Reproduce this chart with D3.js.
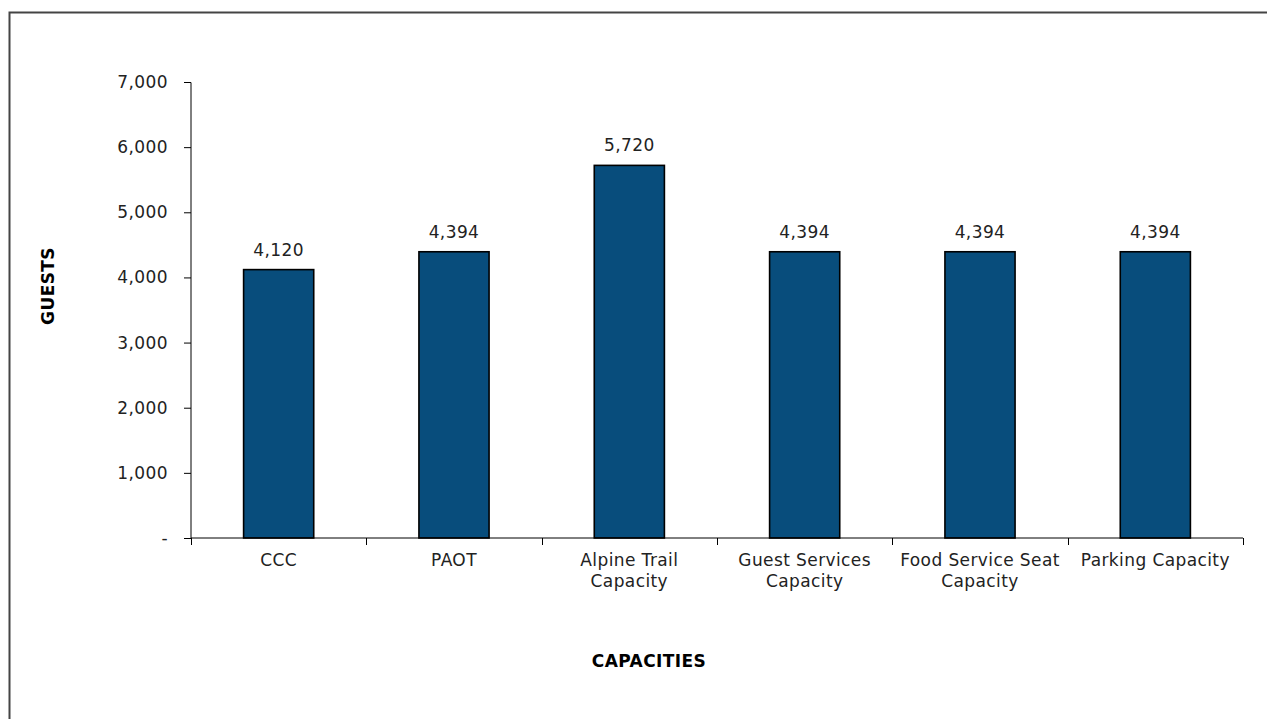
<!DOCTYPE html>
<html>
<head>
<meta charset="utf-8">
<script src="https://cdnjs.cloudflare.com/ajax/libs/d3/7.8.5/d3.min.js"></script>
<style>
  body { margin: 0; background: #fff; }
  svg { display: block; font-family: "DejaVu Sans", sans-serif; letter-spacing: 0.4px; }
</style>
</head>
<body>
<div id="chart"></div>
<script>
var categories = [["CCC"], ["PAOT"], ["Alpine Trail", "Capacity"], ["Guest Services", "Capacity"],
                  ["Food Service Seat", "Capacity"], ["Parking Capacity"]];
var guests = [4120, 4394, 5720, 4394, 4394, 4394];
var yTicks = [0, 1000, 2000, 3000, 4000, 5000, 6000, 7000];

var width = 1267, height = 719;
var margin = { left: 191, top: 82, right: 24, bottom: 181 };
var fontFam = '"DejaVu Sans", sans-serif';

var svg = d3.select("#chart").append("svg")
  .attr("width", width)
  .attr("height", height);

// outer frame
svg.append("rect")
  .attr("x", 9.5).attr("y", 12.5)
  .attr("width", width + 20).attr("height", height + 20)
  .attr("fill", "none")
  .attr("stroke", "#444")
  .attr("stroke-width", 2);

var g = svg.append("g").attr("transform", "translate(" + margin.left + "," + margin.top + ")");
var w = width - margin.left - margin.right;
var h = height - margin.top - margin.bottom;

var idx = d3.range(categories.length);
var x = d3.scaleBand().domain(idx).range([0, w]).paddingInner(0.6).paddingOuter(0.3);
var xb = d3.scaleBand().domain(idx).range([0, w]);
var y = d3.scaleLinear().domain([0, 7000]).range([h, 0]);

// y axis
var yAxis = d3.axisLeft(y).tickValues(yTicks).tickSize(7).tickPadding(16)
  .tickFormat(function (d) { return d === 0 ? "-" : d3.format(",")(d); });
var ya = g.append("g").call(yAxis).attr("font-family", fontFam);
ya.select(".domain").attr("stroke", "#000").attr("d", "M0,0.5V" + h);
ya.selectAll(".tick line").attr("stroke", "#000");
ya.selectAll("text").attr("font-size", 17).attr("fill", "#222");

// bars
g.selectAll("rect.bar").data(guests).enter().append("rect")
  .attr("class", "bar")
  .attr("x", function (d, i) { return x(i); })
  .attr("y", function (d) { return y(d); })
  .attr("width", x.bandwidth())
  .attr("height", function (d) { return h - y(d); })
  .attr("fill", "#084d7c")
  .attr("stroke", "#000")
  .attr("stroke-width", 1.6);

// value labels
g.selectAll("text.val").data(guests).enter().append("text")
  .attr("class", "val")
  .attr("x", function (d, i) { return x(i) + x.bandwidth() / 2; })
  .attr("y", function (d) { return y(d) - 14; })
  .attr("text-anchor", "middle")
  .attr("font-size", 17)
  .attr("fill", "#222")
  .text(function (d) { return d3.format(",")(d); });

// x axis line and boundary ticks
var xa = g.append("g").attr("transform", "translate(0," + h + ")");
xa.append("line").attr("x1", 0).attr("x2", w).attr("stroke", "#000");
xa.selectAll("line.tk").data(d3.range(categories.length + 1)).enter().append("line")
  .attr("class", "tk")
  .attr("x1", function (d) { return Math.round(d * xb.step()) + 0.5; })
  .attr("x2", function (d) { return Math.round(d * xb.step()) + 0.5; })
  .attr("y1", 0).attr("y2", 7)
  .attr("stroke", "#000");

// category labels
var cl = xa.selectAll("text.cat").data(categories).enter().append("text")
  .attr("class", "cat")
  .attr("text-anchor", "middle")
  .attr("font-size", 17)
  .attr("fill", "#222")
  .attr("transform", function (d, i) { return "translate(" + (xb(i) + xb.bandwidth() / 2) + ",28)"; });
cl.selectAll("tspan").data(function (d) { return d; }).enter().append("tspan")
  .attr("x", 0)
  .attr("dy", function (d, i) { return i === 0 ? 0 : 21; })
  .text(function (d) { return d; });

// axis titles
svg.append("text")
  .attr("transform", "translate(54,286) rotate(-90)")
  .attr("text-anchor", "middle")
  .attr("font-size", 17)
  .attr("font-weight", "bold")
  .attr("fill", "#000")
  .text("GUESTS");

svg.append("text")
  .attr("x", 649)
  .attr("y", 667)
  .attr("text-anchor", "middle")
  .attr("font-size", 17)
  .attr("font-weight", "bold")
  .attr("fill", "#000")
  .text("CAPACITIES");
</script>
</body>
</html>
